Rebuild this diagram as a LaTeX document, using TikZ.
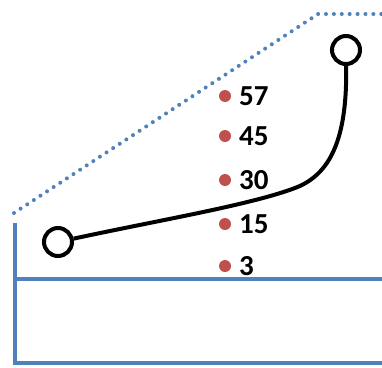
\documentclass[tikz,border=0pt]{standalone}
\usepackage{fontspec}
\setmainfont{Carlito}
\definecolor{lineblue}{HTML}{4F81BD}
\definecolor{dotred}{HTML}{C0504D}
\begin{document}
\begin{tikzpicture}[x=1pt,y=-1pt,
  blueline/.style={lineblue,line width=3.4pt},
  dotline/.style={lineblue,line width=4pt,line cap=round,dash pattern=on 0pt off 7.9pt},
  ring/.style={circle,draw=black,line width=4pt,minimum size=28pt,inner sep=0pt},
  reddot/.style={circle,fill=dotred,minimum size=12pt,inner sep=0pt},
  lab/.style={anchor=west,font=\bfseries\fontsize{29}{31}\selectfont,inner sep=0pt}]
\useasboundingbox (0,0) rectangle (382,367);
\coordinate (vt) at (15,223);
\coordinate (vb) at (15,363);
\coordinate (ml) at (15,279);
\coordinate (mr) at (382,279);
\coordinate (br) at (382,363);
\draw[blueline] (vt) -- (vb) -- (br);
\draw[blueline] (ml) -- (mr);
\coordinate (d1) at (14,213);
\coordinate (d2) at (318,14);
\coordinate (d3) at (382,14);
\draw[dotline] (d1) -- (d2) -- (d3);
\node[ring] (L) at (58,242) {};
\node[ring] (R) at (346,50) {};
\draw[line width=4pt] (L) .. controls (160,220) and (250,205) .. (295,188) .. controls (335,173) and (347,130) .. (R);
\foreach \y/\t in {96/57,136/45,180/30,224/15,266/3}{
  \node[reddot] (p\t) at (225,\y) {};
  \node[lab] (t\t) at (239,\y) {\t};
}
\end{tikzpicture}
\end{document}
